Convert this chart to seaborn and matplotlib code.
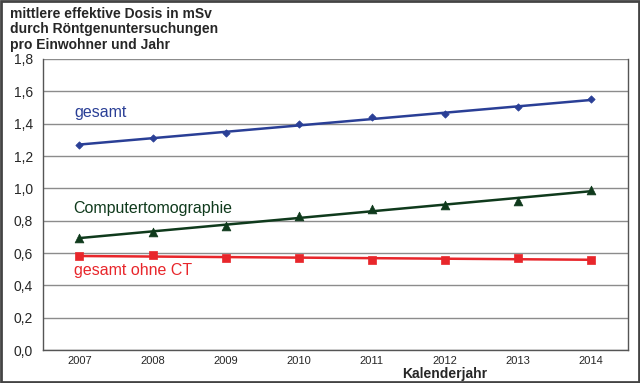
import seaborn as sns
import matplotlib.pyplot as plt
import pandas as pd
from matplotlib.ticker import FixedLocator, FuncFormatter
from matplotlib.patches import Rectangle

years = ["2007", "2008", "2009", "2010", "2011", "2012", "2013", "2014"]
gesamt = [1.27, 1.31, 1.34, 1.40, 1.44, 1.46, 1.50, 1.55]
ct = [0.69, 0.73, 0.77, 0.83, 0.87, 0.90, 0.92, 0.99]
ohne_ct = [0.58, 0.59, 0.57, 0.57, 0.56, 0.56, 0.57, 0.56]

blue = "#2a3f96"
green = "#0f3a1c"
red = "#e8262b"

sns.set_style("white")
plt.rcParams["font.family"] = ["Liberation Sans", "DejaVu Sans"]

fig = plt.figure(figsize=(6.4, 3.83), dpi=100)
ax = fig.add_axes([0.067, 0.086, 0.914, 0.760])

df = pd.DataFrame({"pos": range(len(years)), "gesamt": gesamt, "ct": ct, "ohne": ohne_ct})

# linear trend lines + data points
for col, color, marker, size in [("gesamt", blue, "D", 14), ("ct", green, "^", 40), ("ohne", red, "s", 34)]:
    sns.regplot(data=df, x="pos", y=col, ax=ax, scatter=False, ci=None,
                color=color, line_kws={"linewidth": 1.8})
    sns.scatterplot(data=df, x="pos", y=col, ax=ax, color=color, marker=marker,
                    s=size, edgecolor=color, linewidth=0.5, zorder=3)

ax.set_xlim(-0.5, len(years) - 0.5)
ax.set_ylim(0, 1.8)
ax.set_xticks(range(len(years)))
ax.set_xticklabels(years)
ax.set_yticks([i * 0.2 for i in range(10)])
ax.yaxis.set_major_formatter(FuncFormatter(lambda v, p: f"{v:.1f}".replace(".", ",")))
ax.grid(axis="y", color="#8c8c8c", linewidth=1)
ax.set_axisbelow(True)

ax.xaxis.set_minor_locator(FixedLocator([i - 0.5 for i in range(len(years) + 1)]))
ax.tick_params(axis="x", which="major", length=0, labelsize=8, pad=4)
ax.tick_params(axis="x", which="minor", length=4, width=1, color="#555555", direction="out")
ax.tick_params(axis="y", length=4, width=1, color="#555555", labelsize=10, direction="out", pad=3)
ax.set_xlabel("")
ax.set_ylabel("")

for side in ["left", "bottom", "right"]:
    ax.spines[side].set_color("#555555")
    ax.spines[side].set_linewidth(1)
ax.spines["top"].set_visible(False)

ax.text(-0.07, 1.466, "gesamt", color=blue, fontsize=11.5, va="center")
ax.text(-0.09, 0.878, "Computertomographie", color=green, fontsize=11.5, va="center")
ax.text(-0.07, 0.495, "gesamt ohne CT", color=red, fontsize=11.5, va="center")

fig.text(0.016, 0.983, "mittlere effektive Dosis in mSv\ndurch Röntgenuntersuchungen\npro Einwohner und Jahr",
         fontsize=10, fontweight="bold", va="top", ha="left", linespacing=1.15)
fig.text(0.695, 0.024, "Kalenderjahr", fontsize=10, fontweight="bold", ha="center", va="center")

fig.patches.append(Rectangle((0.002, 0.003), 0.996, 0.994, transform=fig.transFigure,
                             fill=False, edgecolor="#444444", linewidth=2))

fig.savefig("out.png", dpi=100)
